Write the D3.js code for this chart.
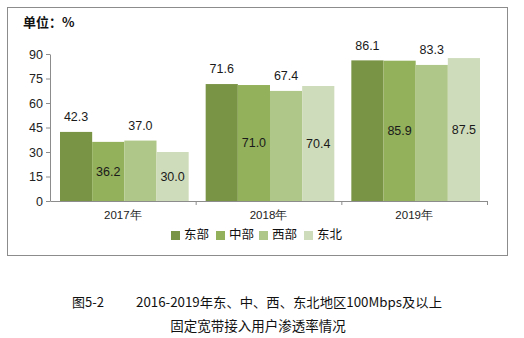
<!DOCTYPE html>
<html><head><meta charset="utf-8">
<script src="https://cdn.jsdelivr.net/npm/d3@7"></script>
<style>body{margin:0;background:#fff}svg{display:block}</style>
</head><body>
<svg id="c" width="524" height="338"></svg>
<script>
const years = ["2017年", "2018年", "2019年"];
const regions = ["东部", "中部", "西部", "东北"];
const east = [42.3, 71.6, 86.1];
const central = [36.2, 71.0, 85.9];
const west = [37.0, 67.4, 83.3];
const northeast = [30.0, 70.4, 87.5];
const yTicks = [0, 15, 30, 45, 60, 75, 90];
const colors = ["#7a9445", "#93b05a", "#afc788", "#cfdcbb"];
const labelPos = ["above", "inside", "above", "inside"];

const series = [east, central, west, northeast];
const svg = d3.select("#c");
const font = "'Liberation Sans', Arial, sans-serif";
const cjk = "'Noto Sans CJK SC', sans-serif";

// frame
svg.append("rect").attr("x", 7.5).attr("y", 7.5).attr("width", 500).attr("height", 248)
  .attr("fill", "none").attr("stroke", "#8c8c8c").attr("stroke-width", 1);

const x0 = d3.scaleBand().domain(years).range([50, 487]).paddingInner(0).paddingOuter(0);
const x1 = d3.scaleBand().domain(regions).range([10, x0.bandwidth() - 7]).padding(0);
const y = d3.scaleLinear().domain([0, 90]).range([201, 54]);

// bars
const g = svg.append("g");
years.forEach((yr, i) => {
  regions.forEach((r, j) => {
    const v = series[j][i];
    const bx = x0(yr) + x1(r);
    g.append("rect").attr("x", bx).attr("y", y(v)).attr("width", x1.bandwidth()).attr("height", y(0) - y(v))
      .attr("fill", colors[j]);
    const ty = labelPos[j] === "above" ? y(v) - 14 : (y(v) + y(0)) / 2 + 1;
    g.append("text").attr("x", bx + x1.bandwidth() / 2).attr("y", ty)
      .attr("text-anchor", "middle").attr("dominant-baseline", "middle")
      .attr("font-family", font).attr("font-size", 12.5).attr("fill", "#1a1a1a")
      .text(v.toFixed(1));
  });
});

// y axis
const ya = svg.append("g").attr("transform", "translate(50,0)")
  .call(d3.axisLeft(y).tickValues(yTicks).tickSize(4).tickSizeOuter(0));
ya.select(".domain").attr("stroke", "#8c8c8c");
ya.selectAll(".tick line").attr("stroke", "#8c8c8c");
ya.selectAll(".tick text").attr("font-family", font).attr("font-size", 12.5).attr("fill", "#222").attr("x", -7);

// x axis
const xa = svg.append("g").attr("transform", "translate(0,201)")
  .call(d3.axisBottom(x0).tickSize(0).tickSizeOuter(0));
xa.select(".domain").attr("stroke", "#8c8c8c");
xa.selectAll(".tick text").attr("font-family", font).attr("font-size", 11.5).attr("fill", "#222")
  .attr("y", 15).attr("dy", null).attr("dominant-baseline", "middle");
// category boundary ticks
const bounds = [x0(years[1]), x0(years[2]), x0.range()[1]];
svg.append("g").selectAll("line").data(bounds).join("line")
  .attr("x1", d => d + 0.5).attr("x2", d => d + 0.5).attr("y1", 201).attr("y2", 205)
  .attr("stroke", "#8c8c8c");

// unit label
svg.append("text").attr("x", 23).attr("y", 27).attr("font-family", cjk).attr("font-size", 13)
  .attr("font-weight", "bold").attr("fill", "#111").text("单位：%");

// legend
const legX = [171, 216, 259, 304];
const lg = svg.append("g");
regions.forEach((r, j) => {
  lg.append("rect").attr("x", legX[j]).attr("y", 231).attr("width", 9).attr("height", 9).attr("fill", colors[j]);
  lg.append("text").attr("x", legX[j] + 13).attr("y", 236).attr("dominant-baseline", "middle")
    .attr("font-family", cjk).attr("font-size", 12.5).attr("fill", "#111").text(r);
});

// caption
svg.append("text").attr("x", 72).attr("y", 303).attr("dominant-baseline", "middle")
  .attr("font-family", cjk).attr("font-size", 13).attr("fill", "#111").text("图5-2");
svg.append("text").attr("x", 136).attr("y", 303).attr("dominant-baseline", "middle")
  .attr("font-family", cjk).attr("font-size", 13).attr("fill", "#111")
  .attr("textLength", 306).attr("lengthAdjust", "spacingAndGlyphs")
  .text("2016-2019年东、中、西、东北地区100Mbps及以上");
svg.append("text").attr("x", 258).attr("y", 327).attr("text-anchor", "middle").attr("dominant-baseline", "middle")
  .attr("font-family", cjk).attr("font-size", 13.5).attr("fill", "#111").text("固定宽带接入用户渗透率情况");
</script>
</body></html>
